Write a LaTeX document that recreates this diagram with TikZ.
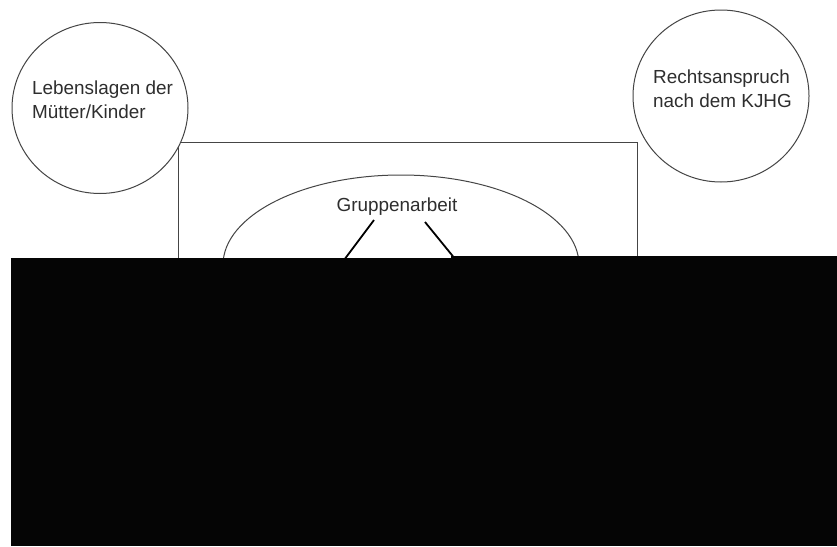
\documentclass[tikz,border=0pt]{standalone}
\usepackage{fontspec}
\setmainfont{Liberation Sans}
\usetikzlibrary{shapes.geometric}
\definecolor{inkgray}{HTML}{2E2E2E}
\definecolor{linegray}{HTML}{454545}
\begin{document}
\begin{tikzpicture}[x=1pt,y=-1pt,
  outline/.style={draw=linegray,line width=1pt},
  bubble/.style={outline,ellipse,fill=white,inner sep=0pt},
  caption/.style={text=inkgray,font=\fontsize{18.9}{24}\selectfont,inner sep=0pt,align=left},
  link/.style={draw=black,line width=1.8pt},
  cover/.style={fill=black!98,draw=none}]
  % page
  \fill[white] (0,0) rectangle (837,546);
  \useasboundingbox (0,0) rectangle (837,546);

  % frame and central ellipse
  \node[outline,rectangle,minimum width=459pt,minimum height=340pt,anchor=north west,inner sep=0pt] (frame) at (178,142) {};
  \node[outline,ellipse,minimum width=356pt,minimum height=180pt,inner sep=0pt] (group) at (401,265) {};
  \node[caption,anchor=base] (grouptxt) at (397,211) {Gruppenarbeit};

  % the two context circles (a multi-line node sits on its last baseline)
  \node[bubble,minimum width=176pt,minimum height=171pt] (life) at (100,108) {};
  \node[caption,anchor=base west] (lifetxt) at (32,118) {Lebenslagen der\\Mütter/Kinder};
  \node[bubble,minimum width=176pt,minimum height=172pt] (law) at (721,96) {};
  \node[caption,anchor=base west] (lawtxt) at (653,107) {Rechtsanspruch\\nach dem KJHG};

  % links from the group work to the lower items
  \coordinate (gl) at (374,220);
  \coordinate (gr) at (425,222);
  \coordinate (itemL) at (320,292);
  \coordinate (itemR) at (482,292);
  \draw[link] (gl) -- (itemL);
  \draw[link] (gr) -- (itemR);

  % black panel over the lower part
  \fill[cover] (11,257.5) rectangle (451,546);
  \fill[cover] (451,255.5) rectangle (837,546);
\end{tikzpicture}
\end{document}
